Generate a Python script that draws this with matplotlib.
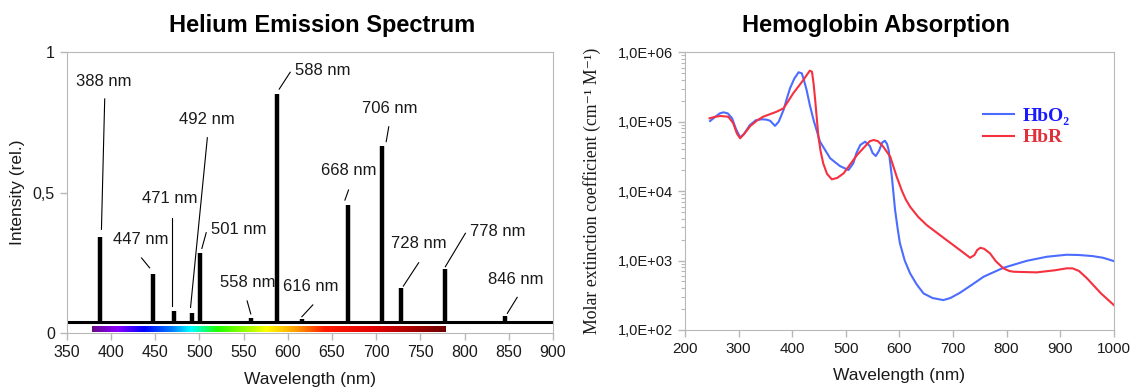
import matplotlib.pyplot as plt
import numpy as np
from matplotlib.colors import LinearSegmentedColormap
from matplotlib.ticker import FixedLocator, FuncFormatter, LogLocator, NullFormatter

# --- helium emission lines (nm, relative intensity)
he_lines = [388, 447, 471, 492, 501, 558, 588, 616, 668, 706, 728, 778, 846]
he_int = [0.34, 0.21, 0.08, 0.07, 0.285, 0.055, 0.85, 0.05, 0.455, 0.665, 0.16, 0.228, 0.06]
he_base = 0.04
he_labels = ['%d nm' % w for w in he_lines]

# label placement: text (x, y), leader start (x, y), leader end (x, y)
label_text_xy = [(392, 0.894), (434, 0.333), (467, 0.479), (508.5, 0.76), (545, 0.367),
                 (554.5, 0.179), (640, 0.935), (626.5, 0.165), (668.7, 0.578), (715, 0.80),
                 (748, 0.319), (838, 0.363), (857.5, 0.191)]
leader_from = [(392.9, 0.833), (434.6, 0.267), (468.5, 0.408), (509, 0.695), (507.7, 0.357),
               (554, 0.114), (602.7, 0.928), (628.3, 0.10), (668.7, 0.509), (714.2, 0.734),
               (748, 0.25), (800.9, 0.355), (859.5, 0.127)]
leader_to = [(389.2, 0.369), (443.7, 0.232), (468.5, 0.095), (490, 0.091), (502.8, 0.301),
             (558.1, 0.068), (590.3, 0.868), (615.9, 0.058), (664.6, 0.473), (711.3, 0.681),
             (730.7, 0.167), (778.2, 0.236), (848.3, 0.07)]

# visible spectrum colour stops
spec_nm = [380, 408, 438, 470, 491, 521, 559, 576, 611, 642, 700, 778]
spec_col = ['#6a0a8a', '#8a00ff', '#0000ff', '#0080ff', '#00ffff', '#20ff00', '#b0ff00',
            '#ffff00', '#ff9900', '#ff1a00', '#e00000', '#700000']

# --- hemoglobin molar extinction (nm, log10 value)
hbo2_nm = [247, 255, 265, 272, 280, 288, 295, 303, 310, 321, 332, 343, 352, 359, 368,
           375, 384, 390, 396, 404, 412, 418, 422, 427, 433, 440, 452, 471, 489, 505,
           514, 520, 527, 536, 545, 550, 556, 562, 568, 573, 577, 580, 586, 592, 597,
           601, 610, 620, 632, 645, 662, 682, 695, 713, 735, 757, 794, 838, 875, 912,
           935, 960, 980, 1000]
hbo2_log = [5.01, 5.06, 5.12, 5.135, 5.12, 5.05, 4.90, 4.775, 4.82, 4.95, 5.02, 5.035,
            5.03, 5.014, 4.94, 5.00, 5.17, 5.33, 5.48, 5.62, 5.712, 5.697, 5.60, 5.457,
            5.24, 5.024, 4.712, 4.473, 4.362, 4.304, 4.40, 4.55, 4.664, 4.712, 4.65,
            4.55, 4.506, 4.58, 4.70, 4.726, 4.68, 4.592, 4.208, 3.728, 3.45, 3.25, 3.00,
            2.816, 2.66, 2.527, 2.46, 2.431, 2.46, 2.536, 2.65, 2.767, 2.896, 2.997,
            3.055, 3.084, 3.08, 3.065, 3.04, 2.993]
hbr_nm = [246, 256, 266, 281, 290, 297, 303, 310, 322, 335, 346, 371, 384, 393, 402,
          412, 421, 428, 433, 437, 440, 443, 446, 449, 453, 458, 465, 474, 484, 496,
          521, 545, 552, 560, 570, 583, 595, 605, 612, 620, 635, 651, 688, 715, 732,
          740, 745, 751, 758, 769, 780, 794, 805, 813, 856, 890, 912, 923, 935, 950,
          976, 1000]
hbr_log = [5.049, 5.07, 5.082, 5.072, 4.98, 4.83, 4.761, 4.82, 4.938, 5.02, 5.072, 5.144,
           5.193, 5.30, 5.409, 5.51, 5.601, 5.68, 5.735, 5.72, 5.55, 5.313, 5.05, 4.784,
           4.58, 4.40, 4.25, 4.17, 4.19, 4.256, 4.52, 4.72, 4.736, 4.72, 4.64, 4.496,
           4.208, 4.00, 3.88, 3.775, 3.63, 3.511, 3.295, 3.14, 3.04, 3.08, 3.15, 3.184,
           3.17, 3.104, 2.99, 2.888, 2.85, 2.839, 2.83, 2.86, 2.888, 2.888, 2.85, 2.744,
           2.527, 2.359]

sans = 'Liberation Sans'
serif = ['Liberation Serif', 'DejaVu Serif']
grey = '#b8b8b8'
txt = '#1a1a1a'

plt.rcParams['font.family'] = sans

fig = plt.figure(figsize=(11.3, 3.87), dpi=100)

# ---------------- left: helium spectrum
ax = fig.add_axes([0.0591, 0.1395, 0.4303, 0.7261])
ax.plot([350, 900], [he_base, he_base], color='black', lw=2.2, solid_capstyle='butt')
ax.vlines(he_lines, he_base, he_int, color='black', lw=3.2)

cmap = LinearSegmentedColormap.from_list(
    'vis', [((w - spec_nm[0]) / (spec_nm[-1] - spec_nm[0]), c) for w, c in zip(spec_nm, spec_col)])
ax.imshow(np.linspace(0, 1, 256)[None, :], cmap=cmap, aspect='auto',
          extent=[spec_nm[0] - 2, spec_nm[-1], 0.002, 0.02], zorder=3)

for lab, t, a, b in zip(he_labels, label_text_xy, leader_from, leader_to):
    ax.text(t[0], t[1], lab, ha='center', va='center', fontsize=12, color=txt)
    ax.plot([a[0], b[0]], [a[1], b[1]], color='black', lw=0.8)

ax.set_xlim(350, 900)
ax.set_ylim(0, 1)
ax.set_xticks(range(350, 901, 50))
ax.set_yticks([0, 0.5, 1])
ax.set_yticklabels(['0', '0,5', '1'])
ax.tick_params(colors=grey, labelcolor=txt, labelsize=11.5, length=5, width=1)
for s in ax.spines.values():
    s.set_color(grey)
ax.set_xlabel('Wavelength (nm)', fontsize=12.5, color=txt, labelpad=9)
ax.set_ylabel('Intensity (rel.)', fontsize=12.5, color=txt, labelpad=6)
fig.text(0.285, 0.935, 'Helium Emission Spectrum', ha='center', va='center',
         fontsize=17, fontweight='bold', color='black')

# ---------------- right: hemoglobin absorption
ax2 = fig.add_axes([0.6061, 0.1473, 0.3796, 0.7176])
ax2.plot(hbo2_nm, np.power(10.0, hbo2_log), color='#4b6cff', lw=1.5,
         solid_joinstyle='round', label='HbO₂')
ax2.plot(hbr_nm, np.power(10.0, hbr_log), color='#f5303f', lw=1.5,
         solid_joinstyle='round', label='HbR')
ax2.set_yscale('log')
ax2.set_xlim(200, 1000)
ax2.set_ylim(1e2, 1e6)
ax2.set_xticks(range(200, 1001, 100))
ax2.yaxis.set_major_locator(FixedLocator([1e2, 1e3, 1e4, 1e5, 1e6]))
ax2.yaxis.set_major_formatter(FuncFormatter(lambda v, p: '1,0E+%02d' % round(np.log10(v))))
ax2.yaxis.set_minor_locator(LogLocator(base=10, subs=np.arange(2, 10)))
ax2.yaxis.set_minor_formatter(NullFormatter())
ax2.tick_params(colors=grey, labelcolor=txt, labelsize=11, length=5, width=1)
ax2.tick_params(axis='y', labelsize=10.5)
ax2.tick_params(which='minor', colors=grey, length=3, width=0.8)
for s in ax2.spines.values():
    s.set_color(grey)
ax2.set_xlabel('Wavelength (nm)', fontsize=12.5, color=txt, labelpad=9)
ax2.set_ylabel('Molar extinction coefficient (cm⁻¹ M⁻¹)', fontsize=12.8, color=txt,
               family=serif, labelpad=12)
fig.text(0.775, 0.935, 'Hemoglobin Absorption', ha='center', va='center',
         fontsize=17, fontweight='bold', color='black')

leg = ax2.legend(loc='upper left', bbox_to_anchor=(0.655, 0.865), frameon=False,
                 handlelength=1.6, handletextpad=0.4, labelspacing=0.2,
                 prop={'family': serif, 'weight': 'bold', 'size': 14})
for t, c in zip(leg.get_texts(), ['#1a1aff', '#e0303a']):
    t.set_color(c)

fig.savefig('out.png', dpi=100)
